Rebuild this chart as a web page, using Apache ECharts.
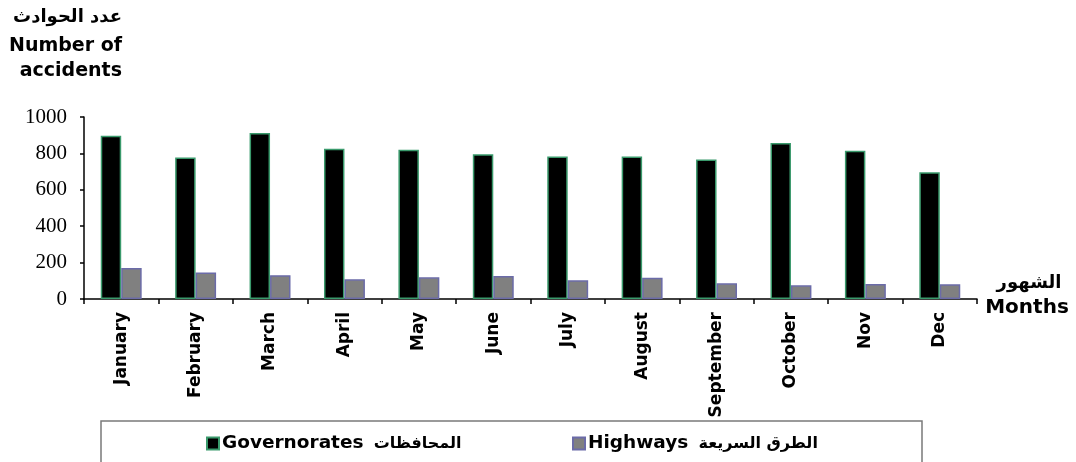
<!DOCTYPE html>
<html>
<head>
<meta charset="utf-8">
<script src="https://cdn.jsdelivr.net/npm/echarts@6/dist/echarts.min.js"></script>
<style>
html,body{margin:0;padding:0;background:#fff;}
#chart{width:1076px;height:462px;}
</style>
</head>
<body>
<div id="chart"></div>
<script>
const months = ['January','February','March','April','May','June','July','August','September','October','Nov','Dec'];
const governorates = [897, 777, 912, 825, 820, 796, 783, 783, 767, 857, 814, 697];
const highways = [170, 146, 131, 108, 119, 127, 103, 117, 86, 75, 83, 81];
const yMin = 0, yMax = 1000, yStep = 200;
const seriesNames = ['Governorates', 'Highways'];
const seriesArabic = ['المحافظات', 'الطرق السريعة'];
const yTitleAr = 'عدد الحوادث';
const yTitleEn = ['Number of', 'accidents'];
const xTitleAr = 'الشهور';
const xTitleEn = 'Months';

const BOLD = 'bold';
const FAM = '"DejaVu Sans", sans-serif';

const chart = echarts.init(document.getElementById('chart'), null, {renderer:'canvas'});

function legendCfg(name, left){
  return {
    data:[name],
    left:left,
    top:434,
    itemWidth:12,
    itemHeight:12,
    itemGap:0,
    padding:0,
    icon:'rect',
    selectedMode:false,
    formatter: function(n){
      const i = seriesNames.indexOf(n);
      return '{en|' + n + '}{sp|  }{ar|' + seriesArabic[i] + '}';
    },
    textStyle:{
      padding:[0,0,0,-2],
      rich:{
        en:{fontFamily:FAM, fontWeight:BOLD, fontSize:18.5, color:'#000'},
        sp:{fontFamily:FAM, fontSize:16},
        ar:{fontFamily:FAM, fontWeight:BOLD, fontSize:16, color:'#000'}
      }
    }
  };
}

const option = {
  backgroundColor:'#fff',
  animation:false,
  grid:{left:84, right:99, top:117, bottom:163, containLabel:false},
  legend:[legendCfg(seriesNames[0], 206), legendCfg(seriesNames[1], 572)],
  xAxis:{
    type:'category',
    data:months,
    boundaryGap:true,
    axisLine:{show:true, lineStyle:{color:'#000', width:1.5}},
    axisTick:{show:true, length:5, alignWithLabel:false, lineStyle:{color:'#000', width:1.5}},
    axisLabel:{
      rotate:90,
      interval:0,
      margin:13,
      fontFamily:FAM,
      fontWeight:BOLD,
      fontSize:17,
      color:'#000'
    },
    splitLine:{show:false}
  },
  yAxis:{
    type:'value',
    min:yMin,
    max:yMax,
    interval:yStep,
    axisLine:{show:true, lineStyle:{color:'#000', width:1.5}},
    axisTick:{show:true, length:4, inside:false, lineStyle:{color:'#000', width:1.5}},
    axisLabel:{
      margin:17,
      formatter:function(v){ return String(v); },
      fontFamily:'"Liberation Serif", "Times New Roman", serif',
      fontSize:21,
      color:'#000'
    },
    splitLine:{show:false}
  },
  series:[
    {
      name:seriesNames[0],
      type:'bar',
      data:governorates,
      barGap:'0%',
      barCategoryGap:'45%',
      itemStyle:{color:'#000', borderColor:'#3a9a6c', borderWidth:1.5}
    },
    {
      name:seriesNames[1],
      type:'bar',
      data:highways,
      barGap:'0%',
      barCategoryGap:'45%',
      itemStyle:{color:'#808080', borderColor:'#6b6ba8', borderWidth:1.5}
    }
  ],
  graphic:[
    {type:'rect', z:-1, silent:true, shape:{x:101, y:421, width:821, height:60},
     style:{fill:'#fff', stroke:'#7a7a7a', lineWidth:1.5}},
    {type:'text', x:122, y:17, silent:true,
     style:{text:yTitleAr, font:'bold 18px "DejaVu Sans", sans-serif', fill:'#000', align:'right', verticalAlign:'middle'}},
    {type:'text', x:122, y:46, silent:true,
     style:{text:yTitleEn[0], font:'bold 19px "DejaVu Sans", sans-serif', fill:'#000', align:'right', verticalAlign:'middle'}},
    {type:'text', x:122, y:71, silent:true,
     style:{text:yTitleEn[1], font:'bold 19px "DejaVu Sans", sans-serif', fill:'#000', align:'right', verticalAlign:'middle'}},
    {type:'text', x:1029, y:283, silent:true,
     style:{text:xTitleAr, font:'bold 18px "DejaVu Sans", sans-serif', fill:'#000', align:'center', verticalAlign:'middle'}},
    {type:'text', x:1027, y:308, silent:true,
     style:{text:xTitleEn, font:'bold 20px "DejaVu Sans", sans-serif', fill:'#000', align:'center', verticalAlign:'middle'}}
  ]
};
chart.setOption(option);
</script>
</body>
</html>
